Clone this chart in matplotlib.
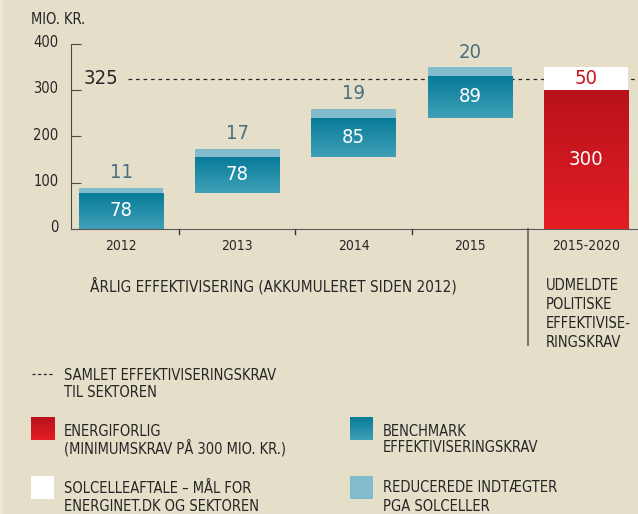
# Floating bar chart: annual efficiency requirement (accumulated since 2012)
import numpy as np
import matplotlib.pyplot as plt
import matplotlib.transforms as mtransforms
from matplotlib.colors import LinearSegmentedColormap
from matplotlib.lines import Line2D

# ---------------------------------------------------------------
# Data
years = ['2012', '2013', '2014', '2015']
benchmark = [78, 78, 85, 89]          # benchmark efficiency requirement
solar = [11, 17, 19, 20]              # reduced revenue due to solar cells
policy_label = '2015-2020'
policy_min = 300                      # energy agreement minimum
policy_extra = 50                     # solar cell agreement target
total_req = 325                       # total requirement for the sector
yticks = [0, 100, 200, 300, 400]

# ---------------------------------------------------------------
# Style
BG = '#e5dfca'
TXT = '#262626'
LIGHT = '#82bccc'
teal_cmap = LinearSegmentedColormap.from_list('teal', ['#40a0b8', '#067b98'])
red_cmap = LinearSegmentedColormap.from_list('red', ['#e51d25', '#b8121b'])
plt.rcParams['font.family'] = ['DejaVu Sans']
plt.rcParams['font.stretch'] = 'condensed'

W, H = 638, 514
fig = plt.figure(figsize=(W / 100, H / 100), dpi=100, facecolor=BG)


def px(x, y):
    # pixel position (from top-left) -> figure fraction
    return x / W, 1 - y / H


# axes placed in pixel coordinates of the reference
ax_l, ax_r, ax_t, ax_b = 70.7, 638, 44, 229
ax = fig.add_axes([ax_l / W, 1 - ax_b / H, (ax_r - ax_l) / W, (ax_b - ax_t) / H])
ax.set_facecolor(BG)

n = len(years) + 1
x = np.arange(n)
width = 0.727
xmin, xmax = -0.433, n - 1 + 0.447
ymin, ymax = 0, 400
VAL_FS = 14.5

grad = np.linspace(0, 1, 256).reshape(-1, 1)


def gradient_bar(xc, bottom, height, cmap):
    bar = ax.bar(xc, height, width, bottom=bottom, color='none', zorder=2)[0]
    im = ax.imshow(grad, cmap=cmap, aspect='auto', origin='lower', zorder=2,
                   extent=[xc - width / 2, xc + width / 2, bottom, bottom + height])
    im.set_clip_path(bar)
    return bar


# accumulated bars
bottoms = np.concatenate([[0], np.cumsum(benchmark)[:-1]])
for i in range(len(years)):
    b = bottoms[i]
    gradient_bar(x[i], b, benchmark[i], teal_cmap)
    ax.bar(x[i], solar[i], width, bottom=b + benchmark[i], color=LIGHT, zorder=2)
    ax.text(x[i], b + benchmark[i] / 2, str(benchmark[i]), color='white',
            ha='center', va='center', fontsize=VAL_FS, zorder=3)
    ax.annotate(str(solar[i]), (x[i], b + benchmark[i] + solar[i]),
                xytext=(0, 15), textcoords='offset pixels', ha='center', va='center',
                color='#4a6e80', fontsize=VAL_FS)

# policy bar
ip = n - 1
gradient_bar(x[ip], 0, policy_min, red_cmap)
ax.bar(x[ip], policy_extra, width, bottom=policy_min, color='white', zorder=2)
ax.text(x[ip], policy_min / 2, str(policy_min), color='white', ha='center',
        va='center', fontsize=VAL_FS, zorder=3)
ax.text(x[ip], policy_min + policy_extra / 2, str(policy_extra), color='#c8141e',
        ha='center', va='center', fontsize=VAL_FS, zorder=3)

# total requirement line
ax.plot([0.06, xmax], [total_req, total_req], color=TXT, lw=0.9,
        ls=(0, (3, 3)), zorder=1)
ax.text(-0.325, total_req, str(total_req), ha='left', va='center', fontsize=VAL_FS,
        color=TXT)

ax.set_xlim(xmin, xmax)
ax.set_ylim(ymin, ymax)

# axes styling
for s in ['top', 'right']:
    ax.spines[s].set_visible(False)
ax.spines['left'].set_color('#4a4a4a')
ax.spines['bottom'].set_color('#5a5a5a')
ax.spines['left'].set_bounds(0, 400)
ax.set_yticks(yticks)
ax.tick_params(axis='y', direction='in', length=7, color='#4a4a4a', pad=9,
               labelsize=10.5, labelcolor=TXT)
shift = mtransforms.ScaledTranslation(0, 3 / 100, fig.dpi_scale_trans)
for lab in ax.get_yticklabels():
    lab.set_transform(lab.get_transform() + shift)
ax.set_xticks(x)
ax.set_xticklabels(years + [policy_label])
ax.tick_params(axis='x', length=0, pad=7, labelsize=10, labelcolor=TXT)
for xb in x[:-2] + 0.5:
    ax.plot([xb, xb], [0, -11], color='#333333', lw=1, clip_on=False)
# divider between accumulated and policy part
xd = x[-2] + 0.5
ax.plot([xd, xd], [0, -(345 - ax_b) / (ax_b - ax_t) * 400], color='#6a6a6a',
        lw=1.3, clip_on=False)


def lines_text(x0, y0, lines, step, fs=10.5, ha='left'):
    for k, line in enumerate(lines):
        fig.text(*px(x0, y0 + k * step), line, fontsize=fs, color=TXT,
                 ha=ha, va='center')


# texts
lines_text(31, 19, ['MIO. KR.'], 0, fs=10.5)
lines_text(273, 286, ['ÅRLIG EFFEKTIVISERING (AKKUMULERET SIDEN 2012)'], 0,
           fs=11, ha='center')
lines_text(546, 285, ['UDMELDTE', 'POLITISKE', 'EFFEKTIVISE-', 'RINGSKRAV'], 19.3)

# light strip at the left edge
fig.add_artist(plt.Rectangle((0, 0), 3 / W, 1, transform=fig.transFigure,
                             color='#eeeadb', lw=0))

# legend
fig.add_artist(Line2D([32 / W, 54 / W], [1 - 374 / H] * 2, color=TXT, lw=0.9,
                      ls=(0, (2.5, 2))))
lines_text(64, 375, ['SAMLET EFFEKTIVISERINGSKRAV', 'TIL SEKTOREN'], 17.5)


def legend_box(x0, y0, cmap=None, color=None):
    lax = fig.add_axes([x0 / W, 1 - (y0 + 23) / H, 23 / W, 23 / H])
    lax.set_axis_off()
    if cmap is not None:
        lax.imshow(grad, cmap=cmap, aspect='auto', origin='lower', extent=[0, 1, 0, 1])
    else:
        lax.add_patch(plt.Rectangle((0, 0), 1, 1, color=color))
    lax.set_xlim(0, 1)
    lax.set_ylim(0, 1)


legend_box(31, 417, cmap=red_cmap)
lines_text(64, 431, ['ENERGIFORLIG', '(MINIMUMSKRAV PÅ 300 MIO. KR.)'], 17)
legend_box(350, 417, cmap=teal_cmap)
lines_text(383, 431, ['BENCHMARK', 'EFFEKTIVISERINGSKRAV'], 17)
legend_box(31, 476, color='white')
lines_text(64, 488, ['SOLCELLEAFTALE – MÅL FOR', 'ENERGINET.DK OG SEKTOREN'], 18.5)
legend_box(350, 476, color=LIGHT)
lines_text(383, 488, ['REDUCEREDE INDTÆGTER', 'PGA SOLCELLER'], 18.5)

fig.savefig('out.png', dpi=100, facecolor=BG)
